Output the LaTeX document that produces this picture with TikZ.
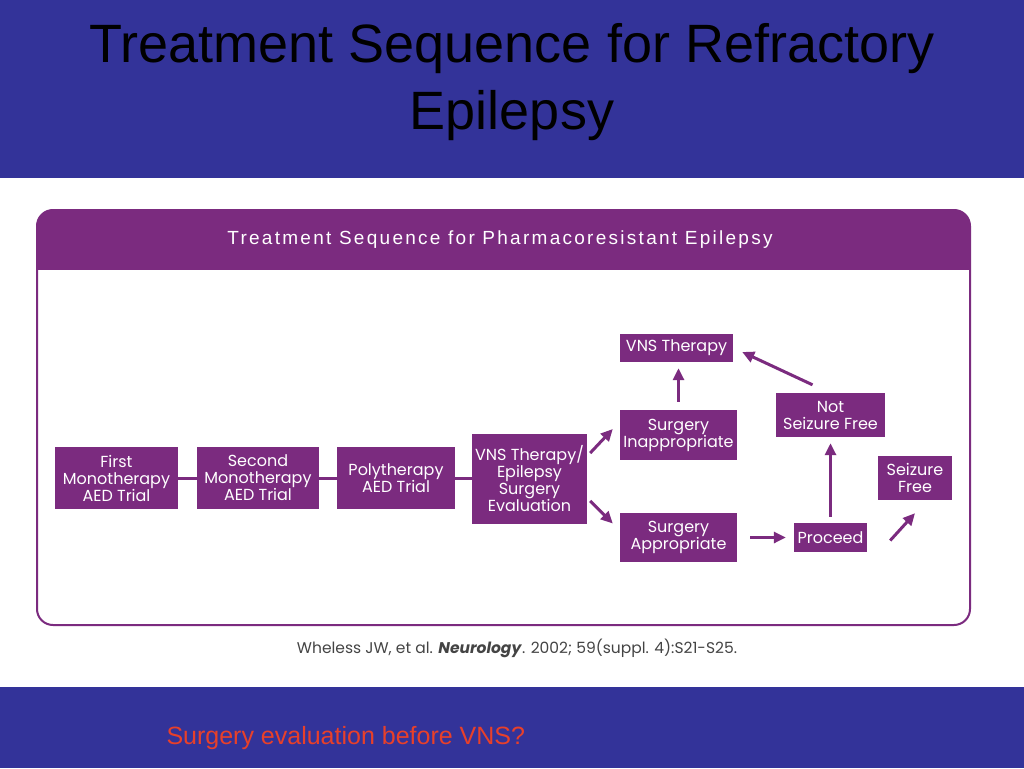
\documentclass[tikz,border=0pt]{standalone}
\usepackage{fontspec}
\setmainfont{Liberation Sans}
\newfontfamily\boxfont{Poppins}
\newfontfamily\hdrfont[LetterSpace=12]{Liberation Sans}
\usetikzlibrary{arrows.meta,calc}
\definecolor{slideblue}{HTML}{333399}
\definecolor{purp}{HTML}{7B2B7F}
\definecolor{redtxt}{HTML}{E8402A}
\definecolor{citegray}{HTML}{444444}
\begin{document}
\begin{tikzpicture}[x=1pt,y=-1pt,
  pbox/.style={fill=purp,text=white,font=\boxfont\fontsize{16}{17}\selectfont,align=center,inner sep=0pt},
  link/.style={draw=purp,line width=3pt},
  arr/.style={draw=purp,line width=3pt,-{Triangle[length=12pt,width=11pt]}}]
\useasboundingbox (0,0) rectangle (1024,768);
% slide bands
\fill[slideblue] (0,0) rectangle (1024,178);
\fill[slideblue] (0,687) rectangle (1024,768);
\node[anchor=base,font=\fontsize{54}{60}\selectfont] (title1) at (512,63) {Treatment Sequence for Refractory};
\node[anchor=base,font=\fontsize{54}{60}\selectfont] (title2) at (512,129) {Epilepsy};
\node[anchor=base west,text=redtxt,font=\fontsize{25}{28}\selectfont] (question) at (163,744) {Surgery evaluation before VNS?};
% panel
\fill[white,rounded corners=16pt] (37,210) rectangle (970,625);
\begin{scope}
  \clip[rounded corners=16pt] (37,210) rectangle (970,625);
  \fill[purp] (37,210) rectangle (970,270);
\end{scope}
\draw[purp,line width=2pt,rounded corners=16pt] (37,210) rectangle (970,625);
\node[text=white,font=\hdrfont\fontsize{19}{22}\selectfont] (header) at (500,240) {Treatment Sequence for Pharmacoresistant Epilepsy};
\node[text=citegray,font=\boxfont\fontsize{15.5}{18}\selectfont] (cite) at (517,648) {Wheless JW, et al. \textbf{\textit{Neurology}}. 2002; 59(suppl. 4):S21-S25.};
% boxes
\node[pbox,minimum width=123,minimum height=62] (first) at (116.5,478) {First\\Monotherapy\\AED Trial};
\node[pbox,minimum width=122,minimum height=62] (second) at (258,478) {Second\\Monotherapy\\AED Trial};
\node[pbox,minimum width=118,minimum height=62] (poly) at (396,478) {Polytherapy\\AED Trial};
\node[pbox,minimum width=115,minimum height=90] (eval) at (529.5,479) {VNS Therapy/\\Epilepsy\\Surgery\\Evaluation};
\node[pbox,minimum width=113,minimum height=28] (vns) at (676.5,348) {VNS Therapy};
\node[pbox,minimum width=117,minimum height=50] (inapp) at (678.5,435) {Surgery\\Inappropriate};
\node[pbox,minimum width=117,minimum height=49] (app) at (678.5,537.5) {Surgery\\Appropriate};
\node[pbox,minimum width=109,minimum height=44] (nsf) at (830.5,415) {Not\\Seizure Free};
\node[pbox,minimum width=73,minimum height=29] (proc) at (830.5,537.5) {Proceed};
\node[pbox,minimum width=74,minimum height=44] (sf) at (915,478) {Seizure\\Free};
% connectors
\draw[link] (first) -- (second);
\draw[link] (second) -- (poly);
\draw[link] (poly) -- (eval.west |- poly);
\draw[arr] ($(eval.east)+(3,-26)$) -- ($(inapp.west)+(-7,-6)$);
\draw[arr] ($(eval.east)+(3,22)$) -- ($(app.west)+(-7,-14)$);
\draw[arr] ($(inapp.north)+(0,-8)$) -- ($(vns.south)+(2,6)$);
\draw[arr] ($(nsf.north)+(-18,-8)$) -- ($(vns.east)+(9,4)$);
\draw[arr] ($(app.east)+(13,0)$) -- ($(proc.west)+(-8,0)$);
\draw[arr] ($(proc.north)+(0,-6)$) -- ($(nsf.south)+(0,6)$);
\draw[arr] ($(proc.east)+(23,3)$) -- ($(sf.south)+(0,13)$);
\end{tikzpicture}
\end{document}
